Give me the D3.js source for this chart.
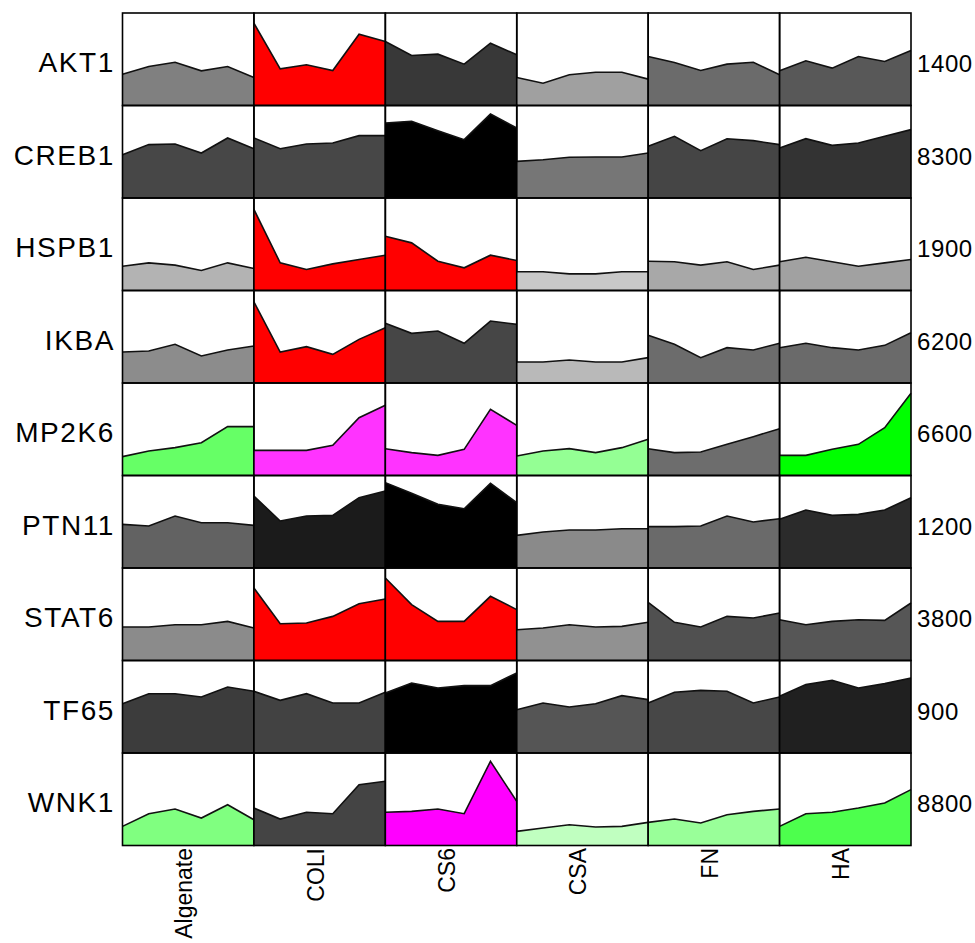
<!DOCTYPE html>
<html>
<head>
<meta charset="utf-8">
<script src="https://cdn.jsdelivr.net/npm/d3@7"></script>
<style>
  body { margin: 0; background: #fff; }
  text { font-family: "Liberation Sans", Arial, Helvetica, sans-serif; fill: #000; }
</style>
</head>
<body>
<svg id="grid" width="975" height="943"></svg>
<script>
const genes = ["AKT1", "CREB1", "HSPB1", "IKBA", "MP2K6", "PTN11", "STAT6", "TF65", "WNK1"];
const conditions = ["Algenate", "COLI", "CS6", "CSA", "FN", "HA"];
const rowMax = ["1400", "8300", "1900", "6200", "6600", "1200", "3800", "900", "8800"];
const timepoints = [0, 1, 2, 3, 4, 5];

// values in % of the row scale, one series per condition
const akt1 = [
  [33.9, 42.2, 46.8, 37.5, 42.2, 30.3],
  [89.0, 39.6, 44.0, 37.8, 77.1, 69.2],
  [69.2, 54.0, 55.5, 44.7, 67.4, 54.8],
  [30.3, 24.1, 33.2, 36.0, 36.0, 28.5],
  [53.0, 46.5, 37.8, 44.7, 46.8, 33.2],
  [37.5, 48.3, 40.4, 53.0, 47.6, 59.5]
];
const creb1 = [
  [46.8, 57.7, 58.4, 48.6, 64.9, 53.3],
  [64.9, 53.3, 58.4, 59.5, 67.4, 67.4],
  [81.1, 82.9, 72.8, 63.1, 90.8, 75.7],
  [39.6, 41.4, 44.0, 44.3, 44.3, 48.6],
  [55.9, 66.7, 51.2, 64.1, 62.0, 57.7],
  [54.1, 64.1, 56.9, 59.5, 66.7, 73.9]
];
const hspb1 = [
  [26.3, 29.9, 27.4, 21.6, 29.9, 23.8],
  [87.6, 29.9, 22.7, 28.8, 33.5, 38.2],
  [58.7, 51.5, 31.7, 24.5, 38.2, 32.4],
  [20.2, 20.2, 18.0, 18.0, 20.2, 20.2],
  [31.7, 31.0, 27.4, 31.0, 22.7, 27.4],
  [31.0, 36.0, 31.0, 26.3, 29.9, 33.5]
];
const ikba = [
  [33.5, 34.6, 41.8, 29.2, 35.7, 40.0],
  [87.6, 33.5, 39.3, 31.0, 47.2, 59.8],
  [64.5, 53.7, 56.2, 42.9, 67.0, 63.4],
  [22.7, 22.7, 24.9, 22.7, 22.7, 27.4],
  [51.5, 41.8, 27.4, 38.2, 35.7, 42.9],
  [38.2, 42.9, 38.2, 35.7, 40.7, 54.4]
];
const mp2k6 = [
  [20.4, 26.5, 30.1, 35.5, 52.8, 52.8],
  [27.2, 27.2, 27.2, 32.6, 62.5, 75.9],
  [29.0, 24.7, 21.8, 28.3, 71.5, 54.2],
  [21.1, 26.5, 29.0, 24.7, 30.1, 39.1],
  [29.0, 24.7, 25.4, 33.7, 42.0, 50.6],
  [21.8, 21.8, 28.3, 33.7, 51.7, 88.8]
];
const ptn11 = [
  [47.2, 45.4, 56.2, 49.0, 49.0, 46.1],
  [77.8, 50.8, 56.2, 56.9, 76.0, 83.2],
  [92.3, 80.7, 68.8, 64.1, 91.5, 70.6],
  [35.3, 38.9, 41.1, 41.1, 42.5, 42.5],
  [44.7, 44.7, 45.4, 56.2, 49.7, 53.3],
  [52.6, 62.7, 56.9, 58.0, 62.7, 76.0]
];
const stat6 = [
  [36.2, 36.2, 38.7, 38.7, 42.3, 35.1],
  [78.4, 39.8, 40.5, 47.7, 61.4, 66.5],
  [89.2, 60.4, 42.3, 42.3, 69.4, 55.0],
  [33.3, 35.1, 38.7, 36.2, 36.9, 41.3],
  [62.9, 41.3, 36.2, 47.7, 45.9, 51.4],
  [44.1, 38.7, 42.3, 44.1, 43.4, 62.2]
];
const tf65 = [
  [53.3, 64.1, 64.1, 60.5, 71.4, 66.7],
  [66.7, 56.9, 64.1, 54.1, 54.1, 65.6],
  [64.9, 75.7, 70.3, 72.8, 72.8, 86.5],
  [46.8, 54.1, 49.7, 53.3, 62.0, 57.7],
  [54.1, 65.6, 67.7, 66.7, 54.1, 60.5],
  [61.3, 73.9, 78.6, 70.3, 75.0, 81.1]
];
const wnk1 = [
  [20.7, 34.4, 39.5, 29.7, 44.1, 27.9],
  [40.5, 28.6, 35.9, 34.4, 65.8, 69.4],
  [35.9, 36.9, 39.5, 34.4, 91.0, 47.7],
  [15.3, 18.9, 22.5, 20.0, 20.7, 25.0],
  [25.0, 28.6, 24.3, 33.3, 36.9, 39.5],
  [20.7, 34.4, 35.9, 40.5, 45.9, 60.4]
];
const values = [akt1, creb1, hspb1, ikba, mp2k6, ptn11, stat6, tf65, wnk1];

// cell fill colours (regulation colour code)
const fills = [
  ["#808080", "#ff0000", "#383838", "#a0a0a0", "#6b6b6b", "#585858"],
  ["#474747", "#474747", "#000000", "#767676", "#454545", "#333333"],
  ["#b3b3b3", "#ff0000", "#ff0000", "#c8c8c8", "#a8a8a8", "#a1a1a1"],
  ["#8c8c8c", "#ff0000", "#464646", "#b9b9b9", "#6c6c6c", "#6a6a6a"],
  ["#66ff66", "#ff33ff", "#ff33ff", "#94ff94", "#6d6d6d", "#00ff00"],
  ["#626262", "#1b1b1b", "#000000", "#8a8a8a", "#6a6a6a", "#2b2b2b"],
  ["#8b8b8b", "#ff0000", "#ff0000", "#919191", "#505050", "#565656"],
  ["#3c3c3c", "#424242", "#000000", "#555555", "#474747", "#202020"],
  ["#80ff80", "#444444", "#ff00ff", "#c0ffc0", "#99ff99", "#4dff4d"]
];

const svg = d3.select("#grid");
const gridLeft = 122.5, gridRight = 911, gridTop = 13, gridBottom = 845.5;

const colScale = d3.scaleBand().domain(conditions).range([gridLeft, gridRight]);
const rowScale = d3.scaleBand().domain(genes).range([gridTop, gridBottom]);
const cw = colScale.bandwidth();
const rh = rowScale.bandwidth();

const x = d3.scaleLinear().domain([0, timepoints.length - 1]).range([0, cw]);
const y = d3.scaleLinear().domain([0, 100]).range([rh, 0]);

const area = d3.area().x((d, i) => x(timepoints[i])).y0(rh).y1((d) => y(d));
const line = d3.line().x((d, i) => x(timepoints[i])).y((d) => y(d));

genes.forEach(function (gene, r) {
  conditions.forEach(function (cond, c) {
    const g = svg.append("g")
      .attr("transform", "translate(" + colScale(cond) + "," + rowScale(gene) + ")");
    const series = values[r][c];
    g.append("path").attr("d", area(series)).attr("fill", fills[r][c]);
    g.append("path").attr("d", line(series))
      .attr("fill", "none").attr("stroke", "#111").attr("stroke-width", 1.6);
    g.append("rect")
      .attr("width", cw).attr("height", rh)
      .attr("fill", "none").attr("stroke", "#000").attr("stroke-width", 1.6);
  });
});

// gene names on the left
svg.selectAll(".gene")
  .data(genes)
  .enter()
  .append("text")
  .attr("class", "gene")
  .attr("x", 115)
  .attr("y", (d) => rowScale(d) + rh / 2 + 13)
  .attr("text-anchor", "end")
  .attr("font-size", "28px")
  .attr("letter-spacing", "1.6px")
  .text((d) => d);

// row scale maxima on the right
svg.selectAll(".rmax")
  .data(rowMax)
  .enter()
  .append("text")
  .attr("class", "rmax")
  .attr("x", 917)
  .attr("y", (d, i) => rowScale(genes[i]) + rh / 2 + 13)
  .attr("font-size", "24px")
  .attr("letter-spacing", "0.6px")
  .text((d) => d);

// condition names below, rotated
svg.selectAll(".cond")
  .data(conditions)
  .enter()
  .append("text")
  .attr("class", "cond")
  .attr("transform", (d) => "translate(" + (colScale(d) + cw / 2 + 4) + ",848) rotate(-90)")
  .attr("text-anchor", "end")
  .attr("font-size", "23px")
  .text((d) => d);
</script>
</body>
</html>
